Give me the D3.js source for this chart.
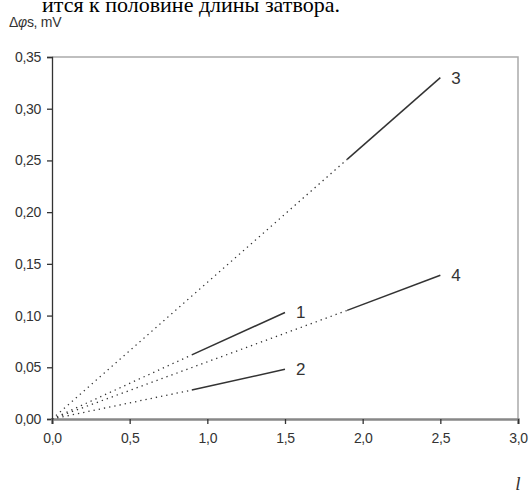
<!DOCTYPE html>
<html>
<head>
<meta charset="utf-8">
<script src="https://cdn.jsdelivr.net/npm/d3@7"></script>
<style>
  html, body { margin: 0; padding: 0; background: #fff; }
  svg { display: block; }
  .tick text { font-family: "Liberation Sans", Arial, sans-serif; fill: #333; letter-spacing: -0.3px; }
</style>
</head>
<body>
<svg id="chart" width="530" height="493"></svg>
<script>
// Curve numbers shown next to each line
const curveIds = ["1", "2", "3", "4"];
// Measured (solid) segment of each curve: l from / to, Δφs from / to
const lStart = [0.9, 0.9, 1.9, 1.9];
const lEnd = [1.5, 1.5, 2.5, 2.5];
const phiStart = [0.062, 0.028, 0.251, 0.105];
const phiEnd = [0.103, 0.048, 0.330, 0.139];
// Axis ticks
const xTicks = [0, 0.5, 1.0, 1.5, 2.0, 2.5, 3.0];
const yTicks = [0, 0.05, 0.10, 0.15, 0.20, 0.25, 0.30, 0.35];

const svg = d3.select("#chart");
const plot = { left: 52, right: 518, top: 57, bottom: 419 };

const x = d3.scaleLinear().domain([0, 3]).range([plot.left, plot.right]);
const y = d3.scaleLinear().domain([0, 0.35]).range([plot.bottom, plot.top]);

const commaFmt = f => d => d3.format(f)(d).replace(".", ",");
const sans = "Liberation Sans, Arial, sans-serif";

// Running text above the figure (continuation of the page)
svg.append("text")
  .attr("x", 42).attr("y", 12)
  .attr("font-family", "Liberation Serif, Times New Roman, serif")
  .attr("font-size", 22)
  .attr("fill", "#000")
  .text("ится к половине длины затвора.");

// Plot frame: top and right edges
svg.append("path")
  .attr("d", `M${plot.left},${plot.top}H${plot.right}V${plot.bottom}`)
  .attr("fill", "none")
  .attr("stroke", "#aaa")
  .attr("stroke-width", 1.5);

// Y axis
const yAxis = svg.append("g")
  .attr("transform", `translate(${plot.left},0)`)
  .call(d3.axisLeft(y).tickValues(yTicks).tickFormat(commaFmt(".2f")).tickSize(5).tickPadding(6));
yAxis.select(".domain").attr("stroke", "#333").attr("stroke-width", 1.3);
yAxis.selectAll(".tick line").attr("stroke", "#333").attr("stroke-width", 1.3);
yAxis.selectAll(".tick text").attr("font-size", 14);

// X axis
const xAxis = svg.append("g")
  .attr("transform", `translate(0,${plot.bottom})`)
  .call(d3.axisBottom(x).tickValues(xTicks).tickFormat(commaFmt(".1f")).tickSize(5).tickPadding(9));
xAxis.select(".domain").attr("stroke", "#888").attr("stroke-width", 2.5);
xAxis.selectAll(".tick line").attr("stroke", "#333").attr("stroke-width", 1.3);
xAxis.selectAll(".tick text").attr("font-size", 14);

// Axis titles
const yTitle = svg.append("text")
  .attr("x", 9).attr("y", 27)
  .attr("font-family", sans)
  .attr("font-size", 14)
  .attr("letter-spacing", -0.3)
  .attr("fill", "#333");
yTitle.append("tspan").text("Δ");
yTitle.append("tspan").attr("font-style", "italic").text("φ");
yTitle.append("tspan").text("s, mV");

svg.append("text")
  .attr("x", 518).attr("y", 490)
  .attr("text-anchor", "middle")
  .attr("font-family", "Liberation Serif, Times New Roman, serif")
  .attr("font-style", "italic")
  .attr("font-size", 19)
  .attr("fill", "#333")
  .text("l");

const line = d3.line().x(d => x(d[0])).y(d => y(d[1]));

curveIds.forEach((id, i) => {
  // extrapolation from the origin
  svg.append("path")
    .datum([[0, 0], [lStart[i], phiStart[i]]])
    .attr("d", line)
    .attr("fill", "none")
    .attr("stroke", "#333")
    .attr("stroke-width", 1.3)
    .attr("stroke-dasharray", "1.3,4");
  // computed segment
  svg.append("path")
    .datum([[lStart[i], phiStart[i]], [lEnd[i], phiEnd[i]]])
    .attr("d", line)
    .attr("fill", "none")
    .attr("stroke", "#333")
    .attr("stroke-width", 1.5);
  // curve number
  svg.append("text")
    .attr("x", x(lEnd[i]) + 11)
    .attr("y", y(phiEnd[i]) + 6)
    .attr("font-family", sans)
    .attr("font-size", 17)
    .attr("fill", "#333")
    .text(id);
});
</script>
</body>
</html>
